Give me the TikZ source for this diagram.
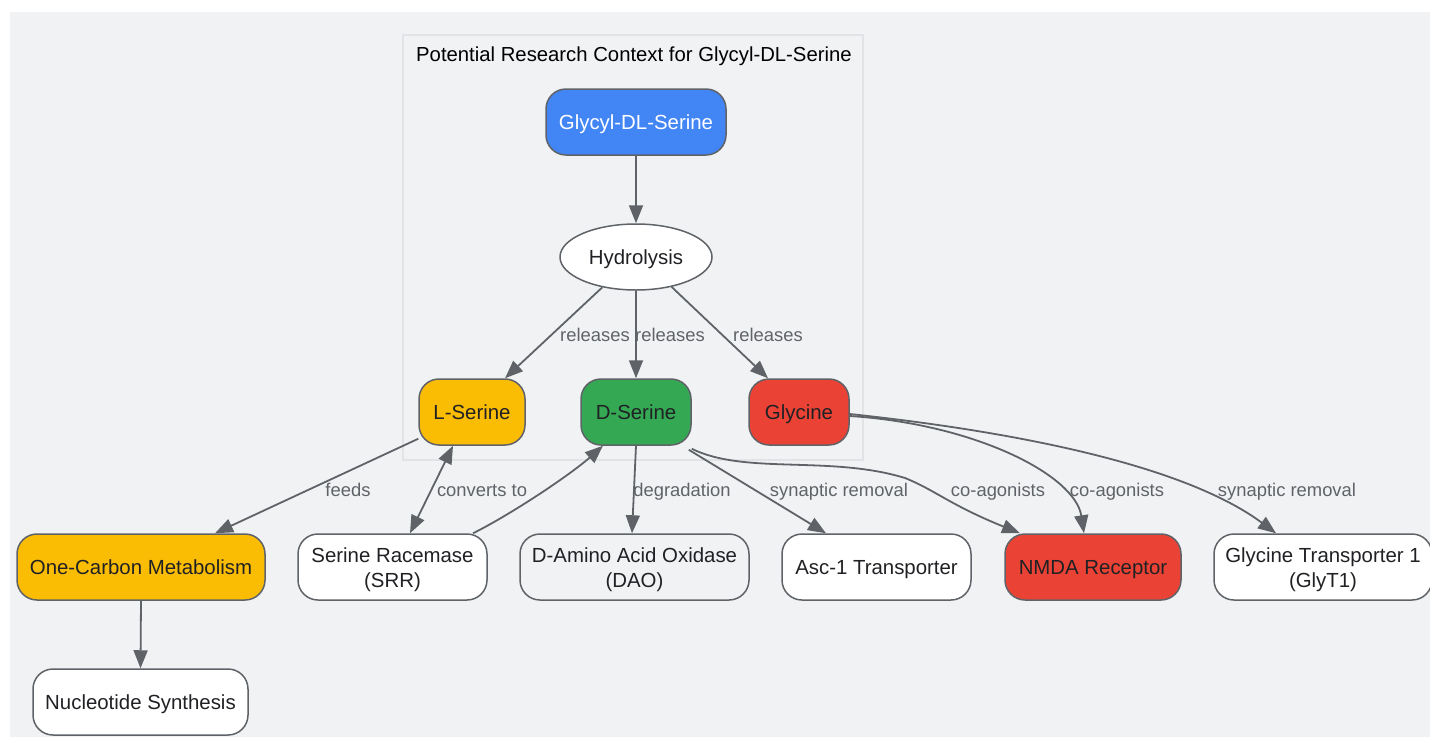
\documentclass[tikz,border=0pt]{standalone}
\usepackage{fontspec}
\setmainfont{Liberation Sans}
\usetikzlibrary{arrows.meta,shapes.geometric,calc}
\definecolor{bgc}{HTML}{F1F2F4}
\definecolor{clusterline}{HTML}{E1E3E6}
\definecolor{edgec}{HTML}{5F6368}
\definecolor{borderc}{HTML}{5F6368}
\definecolor{textc}{HTML}{202124}
\definecolor{gblue}{HTML}{4285F4}
\definecolor{ggreen}{HTML}{34A853}
\definecolor{gred}{HTML}{EA4335}
\definecolor{gyellow}{HTML}{FBBC04}
\begin{document}
\begin{tikzpicture}[x=1pt,y=-1pt,
  box/.style={rectangle, rounded corners=20pt, draw=borderc, line width=1.5pt,
    minimum height=66pt, inner sep=0pt, align=center, text=textc,
    text height=18.5pt, text depth=4.5pt,
    font=\fontsize{20.4}{25}\selectfont},
  twoline/.style={text height=44.5pt, text depth=4.5pt},
  ellbox/.style={ellipse, draw=borderc, line width=1.5pt, fill=white,
    minimum width=152pt, minimum height=66pt, inner sep=0pt, text=textc,
    text height=18.5pt, text depth=4.5pt,
    font=\fontsize{20.4}{25}\selectfont},
  conn/.style={draw=edgec, line width=1.8pt, -{Triangle[length=18pt,width=14pt]}},
  biconn/.style={draw=edgec, line width=1.8pt, {Triangle[length=18pt,width=14pt]}-{Triangle[length=18pt,width=14pt]}},
  lbl/.style={text=edgec, inner sep=0pt, text height=13pt, text depth=0pt,
    font=\fontsize{18.4}{20}\selectfont}
]
\useasboundingbox (0,0) rectangle (1430,737);
\fill[bgc] (10,12) rectangle (1430,737);
% cluster
\draw[clusterline, line width=1.5pt, fill=bgc] (403,35) rectangle (863,460);
\node[anchor=base west, inner sep=0pt, text=black, font=\fontsize{20.3}{24}\selectfont] (title) at (416,61) {Potential Research Context for Glycyl-DL-Serine};

% nodes
\node[box, fill=gblue, text=white, minimum width=180pt] (g) at (636,122) {Glycyl-DL-Serine};
\node[ellbox] (h) at (636,257) {Hydrolysis};
\node[box, fill=gyellow, minimum width=106pt] (ls) at (472,412) {L-Serine};
\node[box, fill=ggreen, minimum width=110pt] (ds) at (636,412) {D-Serine};
\node[box, fill=gred, minimum width=100pt] (gly) at (799,412) {Glycine};
\node[box, fill=gyellow, minimum width=248pt] (oc) at (141,567) {One-Carbon Metabolism};
\node[box, twoline, fill=white, minimum width=189pt] (srr) at (392.5,567) {Serine Racemase\\(SRR)};
\node[box, twoline, fill=bgc, minimum width=229pt] (dao) at (634.5,567) {D-Amino Acid Oxidase\\(DAO)};
\node[box, fill=white, minimum width=189pt] (asc) at (876.5,567) {Asc-1 Transporter};
\node[box, fill=gred, minimum width=176pt] (nmda) at (1093,567) {NMDA Receptor};
\node[box, twoline, fill=white, minimum width=218pt] (glyt) at (1323,567) {Glycine Transporter 1\\(GlyT1)};
\node[box, fill=white, minimum width=215pt] (nuc) at (140.5,702) {Nucleotide Synthesis};

% edges
\draw[conn] (g.south) -- (h.north);
\draw[conn] (h.222) -- ([xshift=33pt]ls.north);
\draw[conn] (h.south) -- (ds.north);
\draw[conn] (h.320) -- ([xshift=-31pt]gly.north);
\draw[conn] ([yshift=7pt]ls.south west) -- ([xshift=74pt]oc.north);
\draw[biconn] ([xshift=-19pt]ls.south) -- ([xshift=17.5pt]srr.north);
\draw[conn] ([xshift=80.5pt]srr.north) .. controls (510,515) and (570,475) .. ([xshift=-33pt]ds.south);
\draw[conn] (ds.south) -- ([xshift=-2.5pt]dao.north);
\draw[conn] ([xshift=-3pt,yshift=-4pt]ds.south east) -- ([xshift=-50.5pt]asc.north);
\draw[conn] ([yshift=-3pt]ds.south east) .. controls (745,475) and (830,455) .. (905,478)
   .. controls (935,490) and (950,505) .. ([xshift=-73pt]nmda.north);
\draw[conn] ([yshift=-4pt]gly.east) .. controls (975,424) and (1075,475) .. ([xshift=-9pt]nmda.north);
\draw[conn] ([yshift=-2pt]gly.east) .. controls (1000,430) and (1180,462) .. ([xshift=-47pt]glyt.north);
\draw[conn] (oc.south) -- (nuc.north);

% labels
\node[lbl] (l1) at (595,335) {releases};
\node[lbl] (l2) at (670,335) {releases};
\node[lbl] (l3) at (768,335) {releases};
\node[lbl] (l4) at (348,490) {feeds};
\node[lbl] (l5) at (482,490) {converts to};
\node[lbl] (l6) at (682,490) {degradation};
\node[lbl] (l7) at (839,490) {synaptic removal};
\node[lbl] (l8) at (998,490) {co-agonists};
\node[lbl] (l9) at (1117,490) {co-agonists};
\node[lbl] (l10) at (1287,490) {synaptic removal};
\end{tikzpicture}
\end{document}
